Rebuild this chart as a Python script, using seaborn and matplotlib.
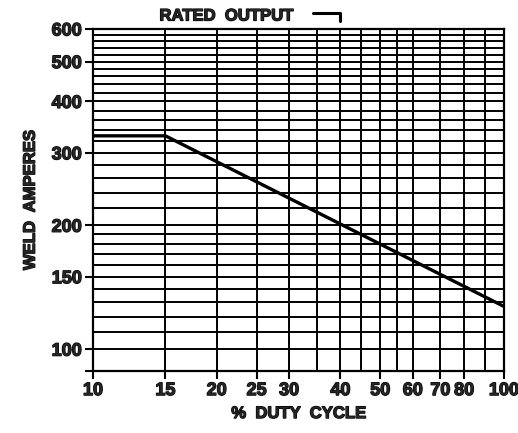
import pandas as pd
import matplotlib
matplotlib.use("Agg")
import matplotlib.pyplot as plt
import matplotlib.patheffects as pe
import seaborn as sns
from matplotlib.lines import Line2D
from matplotlib.ticker import FixedLocator, FixedFormatter, NullFormatter

# Duty cycle curve (log-log)
duty_cycle = [10, 15, 100]
weld_amps = [330, 330, 127]

x_ticks = [10, 15, 20, 25, 30, 40, 50, 60, 70, 80, 100]
x_labels = ["10", "15", "20", "25", "30", "40", "50", "60", "70", "80", "100"]
x_grid = [35, 45, 55, 90]

y_ticks = [88.5, 100, 150, 200, 300, 400, 500, 600]
y_labels = ["", "100", "150", "200", "300", "400", "500", "600"]
y_grid = [110, 120, 130, 140, 160, 170, 180, 190,
          220, 240, 260, 280, 320, 340, 360, 380,
          420, 440, 460, 480, 520, 540, 560, 580]

sns.set_theme(style="white")
plt.rcParams['font.family'] = ['Liberation Sans', 'DejaVu Sans']
plt.rcParams['font.weight'] = 'bold'

heavy = [pe.withStroke(linewidth=0.9, foreground="black")]

df = pd.DataFrame({"duty": duty_cycle, "amps": weld_amps})

fig = plt.figure(figsize=(5.18, 4.33), dpi=100)
ax = fig.add_axes([93 / 518, 1 - 371 / 433, (504 - 93) / 518, (371 - 29) / 433])

sns.lineplot(data=df, x="duty", y="amps", ax=ax, color="black", lw=2.4, zorder=5)

ax.set_xscale("log")
ax.set_yscale("log")
ax.set_xlim(10, 100)
ax.set_ylim(88.5, 600)

ax.xaxis.set_major_locator(FixedLocator(x_ticks))
ax.xaxis.set_major_formatter(FixedFormatter(x_labels))
ax.xaxis.set_minor_locator(FixedLocator(x_grid))
ax.xaxis.set_minor_formatter(NullFormatter())
ax.yaxis.set_major_locator(FixedLocator(y_ticks))
ax.yaxis.set_major_formatter(FixedFormatter(y_labels))
ax.yaxis.set_minor_locator(FixedLocator(y_grid))
ax.yaxis.set_minor_formatter(NullFormatter())

ax.grid(which="both", color="black", lw=1.4)
ax.tick_params(which="major", length=6, width=1.5, color="black",
               labelsize=13, pad=2, bottom=True, left=True)
ax.tick_params(which="minor", length=0)
for lab in ax.get_xticklabels() + ax.get_yticklabels():
    lab.set_fontweight("bold")
    lab.set_path_effects(heavy)
for s in ax.spines.values():
    s.set_color("black")
    s.set_linewidth(1.6)

ax.set_xlabel("%  DUTY  CYCLE", fontsize=12, fontweight="bold", labelpad=5,
              path_effects=heavy)
ax.set_ylabel("WELD  AMPERES", fontsize=12, fontweight="bold", labelpad=10,
              path_effects=heavy)

fig.text(226 / 518, 1 - 16 / 433, "RATED  OUTPUT", ha="center", va="center",
         fontsize=12, fontweight="bold", path_effects=heavy)
fig.add_artist(Line2D([313 / 518, 340 / 518, 340 / 518],
                      [1 - 13 / 433, 1 - 13 / 433, 1 - 21 / 433],
                      color="black", lw=2.2))

fig.savefig("out.png", dpi=100)
